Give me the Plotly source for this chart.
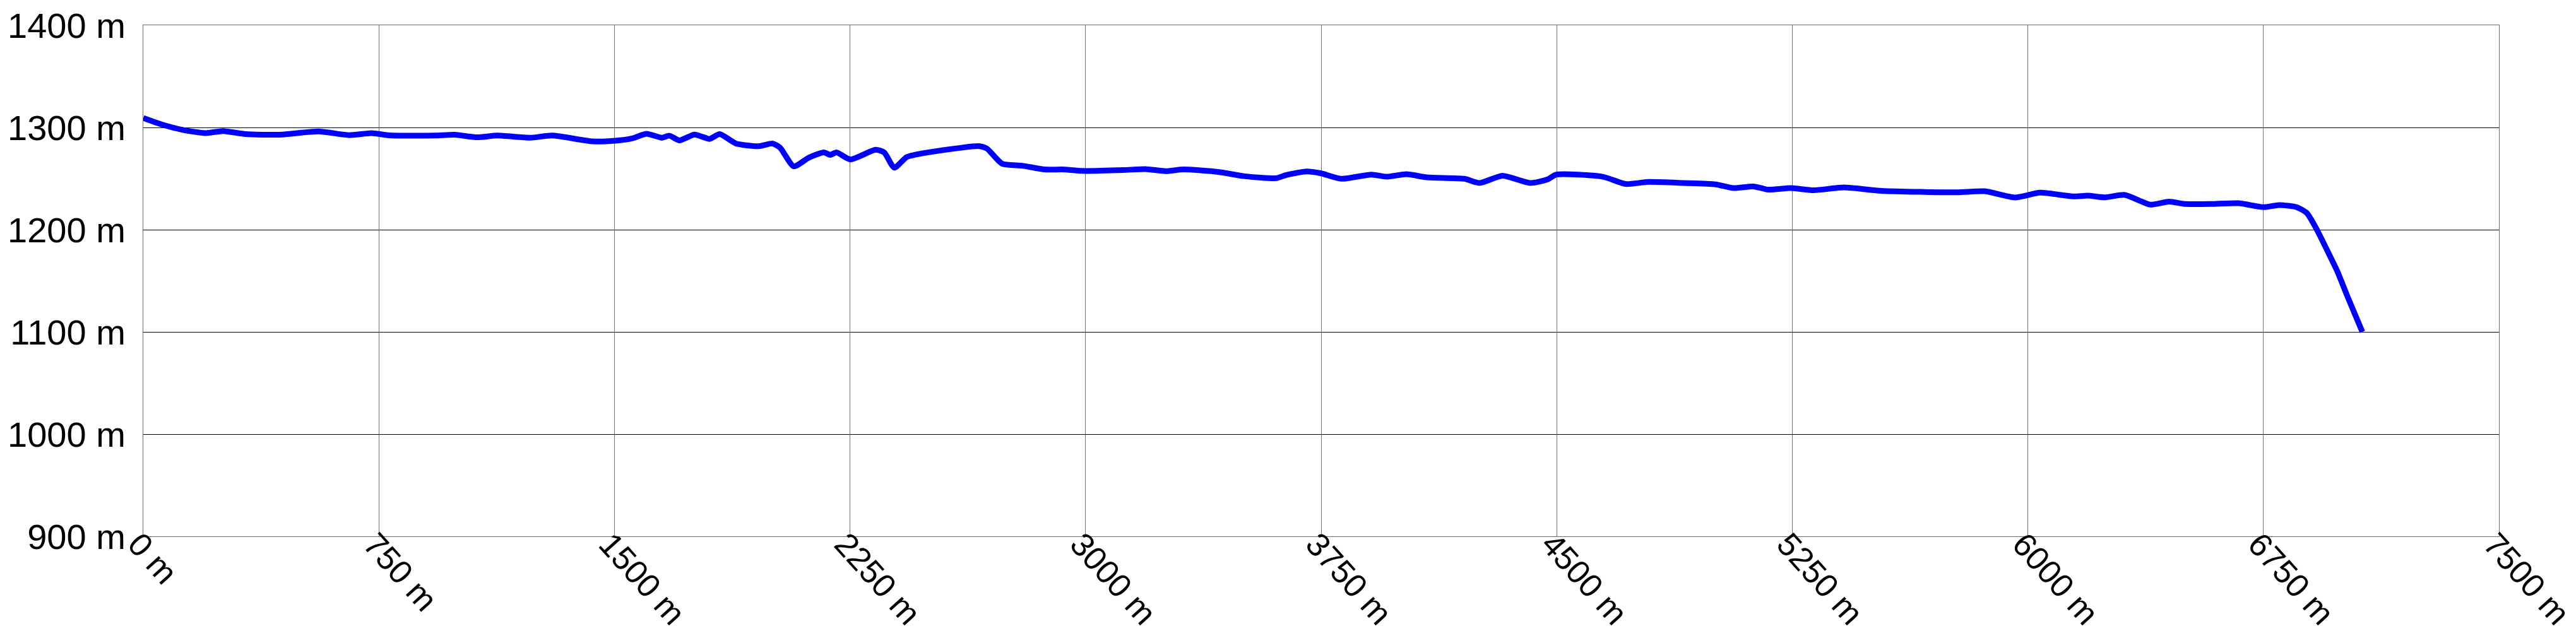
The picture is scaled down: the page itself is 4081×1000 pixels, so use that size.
import plotly.graph_objects as go

distance_m = [0, 62, 126, 198, 254, 326, 431, 559, 655, 727, 783, 927, 991, 1063, 1127, 1232,
              1302, 1430, 1502, 1558, 1602, 1650, 1675, 1707, 1755, 1803, 1835, 1887, 1959, 2003,
              2027, 2071, 2119, 2167, 2187, 2207, 2251, 2331, 2359, 2391, 2431, 2494,
              2662, 2686, 2734, 2798, 2870, 2926, 2990, 3119, 3191, 3255, 3311, 3423, 3503, 3607,
              3639, 3703, 3750, 3814, 3910, 3958, 4022, 4086, 4206, 4255, 4327, 4415, 4471, 4499,
              4647, 4719, 4791, 4903, 5006, 5062, 5126, 5174, 5246, 5318, 5414, 5535, 5775, 5863,
              5959, 6039, 6143, 6191, 6244, 6309, 6390, 6450, 6502, 6583, 6671, 6750, 6800, 6856,
              6888, 6920, 6953, 6985, 7017, 7065]
elevation_m = [1309.3, 1302.6, 1297.6, 1294.5, 1296.5, 1293.5, 1292.9, 1296.1, 1292.5, 1294.5, 1292.3,
               1292.1, 1292.9, 1290.4, 1292.1, 1290.0,
               1292.1, 1286.4, 1287.0, 1289.4, 1293.9, 1290.0, 1291.9, 1287.4, 1293.1, 1288.8, 1293.5,
               1284.3, 1281.7, 1284.3, 1280.3, 1262.0, 1270.5, 1275.6, 1273.2, 1275.6, 1268.7, 1278.2,
               1275.6, 1260.6, 1271.1, 1275.4,
               1281.7, 1279.3, 1264.6, 1262.6, 1258.9, 1258.9, 1257.5, 1258.3, 1259.3, 1257.3, 1258.9,
               1256.5, 1252.4, 1250.4, 1253.5, 1256.9, 1255.1, 1249.8, 1253.9, 1251.8, 1254.3, 1251.2,
               1249.8, 1245.7, 1252.8, 1245.7, 1249.2, 1253.9, 1251.8, 1244.7, 1246.7, 1245.7, 1244.3,
               1240.7, 1242.3, 1239.2, 1240.7, 1238.6, 1241.3, 1238.0, 1236.6, 1237.6, 1231.5, 1236.2,
               1232.5, 1233.3, 1231.6, 1234.0, 1224.5, 1227.5, 1225.1, 1225.1, 1225.9, 1222.0, 1224.1,
               1222.0, 1216.3, 1200.1, 1179.8, 1159.5, 1135.1, 1100.0]

x_ticks = [0, 750, 1500, 2250, 3000, 3750, 4500, 5250, 6000, 6750, 7500]
x_tick_labels = ["0 m", "750 m", "1500 m", "2250 m", "3000 m", "3750 m", "4500 m",
                 "5250 m", "6000 m", "6750 m", "7500 m"]
y_ticks = [900, 1000, 1100, 1200, 1300, 1400]
y_tick_labels = ["900 m", "1000 m", "1100 m", "1200 m", "1300 m", "1400 m"]

FONT = "Liberation Sans, Arial, Helvetica, sans-serif"

fig = go.Figure()
fig.add_trace(go.Scatter(
    x=distance_m, y=elevation_m, mode="lines",
    line=dict(color="#0000ff", width=9, shape="spline", smoothing=0.6),
    showlegend=False, hoverinfo="skip",
))

fig.update_layout(
    width=4081, height=1000,
    margin=dict(l=219, r=130, t=32, b=158, pad=0, autoexpand=False),
    paper_bgcolor="white", plot_bgcolor="white",
    font=dict(family=FONT, size=57, color="black"),
    showlegend=False,
)
fig.update_xaxes(
    range=[0, 7500], tickmode="array", tickvals=x_ticks, ticktext=x_tick_labels, tickangle=48,
    showgrid=True, gridcolor="#707070", gridwidth=1,
    zeroline=False, showline=True, mirror=True, linecolor="#6a6a6a", linewidth=1,
    ticks="", ticklabelstandoff=-40, ticklabelshift=-8, ticklabeloverflow="allow", automargin=False,
    tickfont=dict(family=FONT, size=52, color="black"),
)
fig.update_yaxes(
    range=[900, 1400], tickmode="array", tickvals=y_ticks, ticktext=y_tick_labels,
    showgrid=True, gridcolor="#000000", gridwidth=1,
    zeroline=False, showline=True, mirror=True, linecolor="#6a6a6a", linewidth=1,
    ticks="", ticklabelstandoff=16, ticklabeloverflow="allow", automargin=False,
    tickfont=dict(family=FONT, size=56, color="black"),
)

fig.write_html("out.html")
